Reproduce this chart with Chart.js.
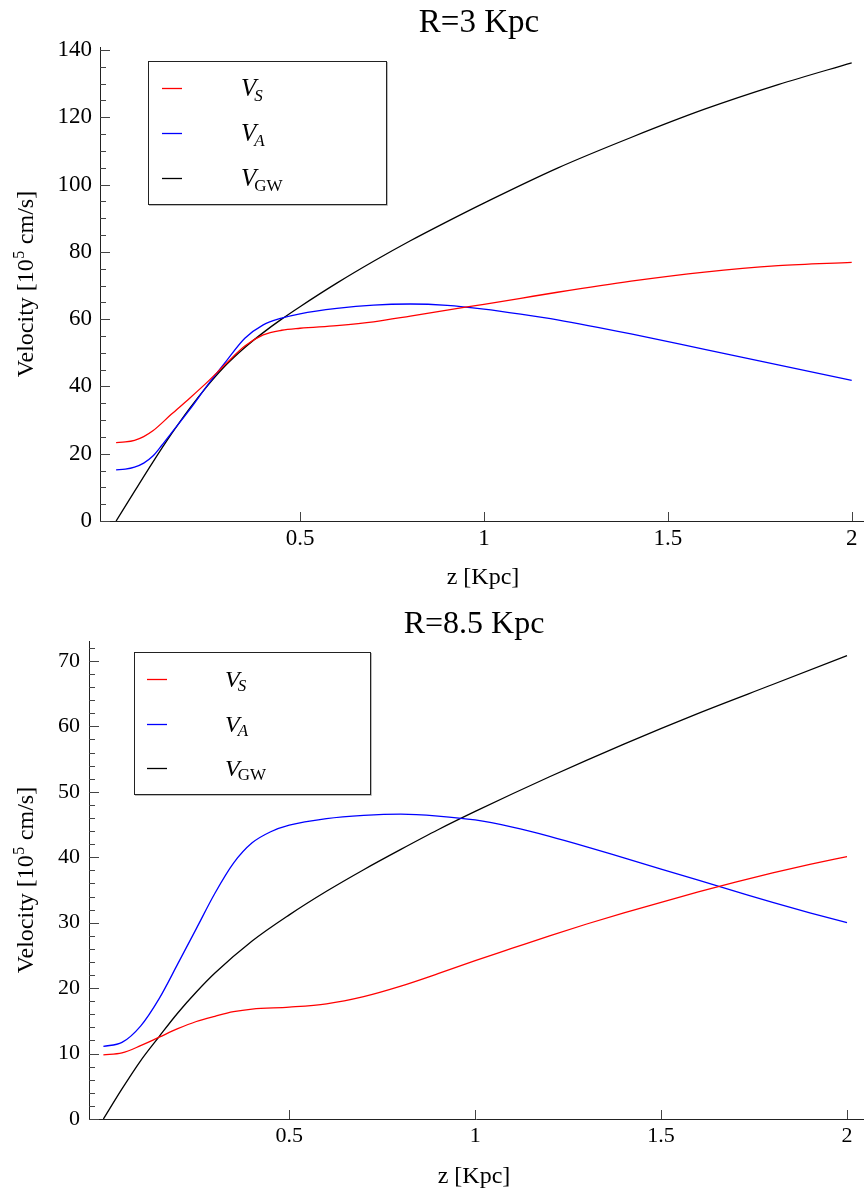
<!DOCTYPE html>
<html><head><meta charset="utf-8">
<script src="https://cdn.jsdelivr.net/npm/chart.js@4.4.1/dist/chart.umd.min.js"></script>
<style>
html,body{margin:0;padding:0;background:#fff;}
#wrap{position:relative;width:864px;height:1197px;overflow:hidden;}
canvas{position:absolute;left:0;}
</style>
</head><body>
<div id="wrap">
<canvas id="c1" width="864" height="600" style="top:0px"></canvas>
<canvas id="c2" width="864" height="597" style="top:600px"></canvas>
</div>
<script>
// ---------- DATA: R = 3 Kpc ----------
const zTopVS = [0, 0.025, 0.05, 0.075, 0.1, 0.15, 0.2, 0.25, 0.3, 0.35, 0.4, 0.45, 0.5, 0.6, 0.7, 0.8, 0.9, 1.0, 1.1, 1.2, 1.4, 1.6, 1.8, 2.0];
const vTopVS = [23.3, 23.5, 24.0, 25.1, 26.8, 31.7, 36.5, 41.5, 46.9, 52.0, 55.3, 56.7, 57.3, 58.1, 59.2, 60.9, 62.7, 64.4, 66.2, 68.0, 71.3, 74.0, 75.9, 76.9];
const zTopVA = [0, 0.025, 0.05, 0.075, 0.1, 0.125, 0.15, 0.2, 0.25, 0.3, 0.35, 0.4, 0.45, 0.5, 0.6, 0.7, 0.8, 0.9, 1.0, 1.1, 1.2, 1.4, 1.6, 1.8, 2.0];
const vTopVA = [15.2, 15.4, 16.0, 17.2, 19.3, 22.6, 26.1, 33.1, 40.6, 47.6, 54.3, 58.3, 60.3, 61.6, 63.2, 64.2, 64.5, 64.1, 63.0, 61.5, 59.8, 55.6, 51.0, 46.4, 41.8];
const zTopVGW = [0, 0.05, 0.1, 0.15, 0.2, 0.25, 0.3, 0.35, 0.4, 0.45, 0.5, 0.6, 0.7, 0.8, 0.9, 1.0, 1.2, 1.4, 1.6, 1.8, 2.0];
const vTopVGW = [0, 8.8, 17.5, 25.8, 33.5, 40.4, 46.5, 51.6, 56.0, 60.0, 63.7, 70.7, 77.2, 83.3, 89.0, 94.5, 104.9, 114.0, 122.4, 129.7, 136.2];
const yTicksTop = [0, 20, 40, 60, 80, 100, 120, 140];
const yMinorTop = [5, 10, 15, 25, 30, 35, 45, 50, 55, 65, 70, 75, 85, 90, 95, 105, 110, 115, 125, 130, 135];

// ---------- DATA: R = 8.5 Kpc ----------
const zBotVS = [0, 0.05, 0.1, 0.15, 0.2, 0.25, 0.3, 0.35, 0.4, 0.5, 0.6, 0.7, 0.8, 0.9, 1.0, 1.1, 1.2, 1.3, 1.4, 1.5, 1.6, 1.7, 1.8, 1.9, 2.0];
const vBotVS = [9.8, 10.1, 11.2, 12.5, 13.8, 14.9, 15.7, 16.4, 16.8, 17.1, 17.6, 18.7, 20.3, 22.2, 24.2, 26.1, 28.0, 29.8, 31.5, 33.1, 34.7, 36.2, 37.6, 38.9, 40.1];
const zBotVA = [0, 0.05, 0.1, 0.15, 0.2, 0.25, 0.3, 0.35, 0.4, 0.45, 0.5, 0.6, 0.7, 0.8, 0.9, 1.0, 1.1, 1.2, 1.3, 1.4, 1.5, 1.6, 1.7, 1.8, 1.9, 2.0];
const vBotVA = [11.1, 11.7, 14.2, 18.4, 23.7, 29.1, 34.5, 39.1, 42.2, 43.9, 44.9, 45.9, 46.4, 46.6, 46.3, 45.7, 44.6, 43.2, 41.6, 39.9, 38.2, 36.5, 34.8, 33.1, 31.5, 30.0];
const zBotVGW = [0, 0.05, 0.1, 0.15, 0.2, 0.25, 0.3, 0.4, 0.5, 0.6, 0.7, 0.8, 0.9, 1.0, 1.2, 1.4, 1.6, 1.8, 2.0];
const vBotVGW = [0, 4.6, 8.9, 12.6, 16.2, 19.4, 22.3, 27.2, 31.2, 34.8, 38.1, 41.2, 44.2, 47.0, 52.3, 57.3, 62.0, 66.4, 70.8];
const yTicksBot = [0, 10, 20, 30, 40, 50, 60, 70];
const yMinorBot = [2, 4, 6, 8, 12, 14, 16, 18, 22, 24, 26, 28, 32, 34, 36, 38, 42, 44, 46, 48, 52, 54, 56, 58, 62, 64, 66, 68, 72];

// ---------- shared ----------
const xTickValues = [0.5, 1, 1.5, 2];
const xTickLabels = ['0.5', '1', '1.5', '2'];
const seriesNames = ['S', 'A', 'GW'];
const seriesColors = ['#ff0000', '#0000ff', '#000000'];
const FONT = '"Liberation Serif", "Times New Roman", "DejaVu Serif", serif';

const decor = {
  id: 'decor',
  afterDraw(chart, args, o) {
    const ctx = chart.ctx, xs = chart.scales.x, ys = chart.scales.y, a = chart.chartArea;
    ctx.save();
    // inside ticks
    ctx.strokeStyle = '#444';
    ctx.lineWidth = 1;
    ctx.beginPath();
    o.yMajor.forEach(v => { const y = Math.round(ys.getPixelForValue(v)) + 0.5; ctx.moveTo(a.left, y); ctx.lineTo(a.left + 10, y); });
    o.yMinor.forEach(v => { const y = Math.round(ys.getPixelForValue(v)) + 0.5; ctx.moveTo(a.left, y); ctx.lineTo(a.left + 6, y); });
    xTickValues.forEach(v => { const x = Math.round(xs.getPixelForValue(v)) + 0.5; ctx.moveTo(x, a.bottom); ctx.lineTo(x, a.bottom - 9); });
    ctx.stroke();

    ctx.fillStyle = '#000';
    // title
    ctx.textAlign = 'center';
    ctx.textBaseline = 'alphabetic';
    ctx.font = o.titleSize + 'px ' + FONT;
    ctx.fillText(o.title, o.titleX, o.titleY);
    // x label
    ctx.font = '24px ' + FONT;
    ctx.fillText('z [Kpc]', o.xLabelX, o.xLabelY);

    // y label rotated with superscript
    ctx.save();
    ctx.translate(o.yLabelX, (a.top + a.bottom) / 2);
    ctx.rotate(-Math.PI / 2);
    ctx.textAlign = 'left';
    ctx.font = '24px ' + FONT;
    const p1 = 'Velocity [10', p3 = ' cm/s]';
    const w1 = ctx.measureText(p1).width, w3 = ctx.measureText(p3).width;
    ctx.font = '16px ' + FONT;
    const w2 = ctx.measureText('5').width;
    let x0 = -(w1 + w2 + w3 + 1) / 2;
    ctx.font = '24px ' + FONT;
    ctx.fillText(p1, x0, 0);
    ctx.font = '16px ' + FONT;
    ctx.fillText('5', x0 + w1 + 0.5, -9);
    ctx.font = '24px ' + FONT;
    ctx.fillText(p3, x0 + w1 + w2 + 1, 0);
    ctx.restore();

    // legend box
    const L = o.legend;
    ctx.fillStyle = '#fff';
    ctx.fillRect(L.x, L.y, L.w, L.h);
    ctx.strokeStyle = '#bbb';
    ctx.lineWidth = 1;
    ctx.beginPath();
    ctx.moveTo(L.x + L.w + 1.5, L.y + 1); ctx.lineTo(L.x + L.w + 1.5, L.y + L.h + 1.5); ctx.lineTo(L.x + 1, L.y + L.h + 1.5);
    ctx.stroke();
    ctx.strokeStyle = '#222';
    ctx.strokeRect(L.x + 0.5, L.y + 0.5, L.w, L.h);
    seriesNames.forEach((n, i) => {
      const y = L.rows[i];
      ctx.strokeStyle = seriesColors[i];
      ctx.lineWidth = 1.3;
      ctx.beginPath(); ctx.moveTo(L.lx1, y + 0.5); ctx.lineTo(L.lx2, y + 0.5); ctx.stroke();
      ctx.fillStyle = '#000';
      ctx.textAlign = 'left';
      ctx.font = 'italic ' + L.vSize + 'px ' + FONT;
      ctx.fillText('V', L.vx, y + L.vSize * 0.33);
      const wv = ctx.measureText('V').width;
      ctx.font = (n === 'GW' ? '' : 'italic ') + L.sSize + 'px ' + FONT;
      ctx.fillText(n, L.vx + wv - 2, y + L.vSize * 0.33 + 4.5);
    });
    ctx.restore();
  }
};

function makeChart(id, cfg) {
  const datasets = cfg.series.map((s, i) => ({
    data: s.z.map((z, k) => ({ x: z, y: s.v[k] })),
    borderColor: seriesColors[i],
    borderWidth: 1.3,
    pointRadius: 0,
    cubicInterpolationMode: 'monotone',
    fill: false
  }));
  return new Chart(document.getElementById(id), {
    type: 'line',
    data: { datasets },
    options: {
      responsive: false,
      animation: false,
      devicePixelRatio: 1,
      layout: { padding: { top: cfg.padTop, right: 1, left: 0, bottom: 0 } },
      plugins: { legend: { display: false }, tooltip: { enabled: false }, decor: cfg.decor },
      scales: {
        x: {
          type: 'linear', min: cfg.xMin, max: cfg.xMax,
          grid: { display: false, drawTicks: false, tickLength: 0 },
          border: { display: true, color: '#222', width: 1 },
          afterFit: s => { s.height = cfg.xH; },
          afterBuildTicks: s => { s.ticks = xTickValues.map(v => ({ value: v })); },
          ticks: {
            color: '#000', padding: 4, maxRotation: 0, autoSkip: false,
            font: { family: FONT, size: cfg.tickSize },
            callback: v => xTickLabels[xTickValues.indexOf(v)]
          }
        },
        y: {
          type: 'linear', min: 0, max: cfg.yMax,
          grid: { display: false, drawTicks: false, tickLength: 0 },
          border: { display: true, color: '#222', width: 1 },
          afterFit: s => { s.width = cfg.yW; },
          afterBuildTicks: s => { s.ticks = cfg.yTicks.map(v => ({ value: v })); },
          ticks: {
            color: '#000', padding: cfg.yPad, autoSkip: false,
            font: { family: FONT, size: cfg.tickSize },
            callback: v => String(v)
          }
        }
      }
    },
    plugins: [decor]
  });
}

makeChart('c1', {
  series: [{ z: zTopVS, v: vTopVS }, { z: zTopVA, v: vTopVA }, { z: zTopVGW, v: vTopVGW }],
  xMin: -0.0438, xMax: 2.0307, yMax: 140.9, yTicks: yTicksTop,
  padTop: 47, xH: 79, yW: 100, yPad: 8, tickSize: 23,
  decor: {
    yMajor: yTicksTop, yMinor: yMinorTop,
    title: 'R=3 Kpc', titleSize: 33, titleX: 479, titleY: 32,
    xLabelX: 483, xLabelY: 584, yLabelX: 33,
    legend: { x: 148, y: 61, w: 238, h: 143, rows: [88, 133, 178], lx1: 162, lx2: 182, vx: 241, vSize: 25, sSize: 17 }
  }
});

makeChart('c2', {
  series: [{ z: zBotVS, v: vBotVS }, { z: zBotVA, v: vBotVA }, { z: zBotVGW, v: vBotVGW }],
  xMin: -0.0387, xMax: 2.043, yMax: 73.05, yTicks: yTicksBot,
  padTop: 41, xH: 78, yW: 89, yPad: 9, tickSize: 22,
  decor: {
    yMajor: yTicksBot, yMinor: yMinorBot,
    title: 'R=8.5 Kpc', titleSize: 32, titleX: 474, titleY: 33,
    xLabelX: 474, xLabelY: 583, yLabelX: 33,
    legend: { x: 134, y: 52, w: 236, h: 142, rows: [79, 124, 168], lx1: 147, lx2: 167, vx: 225, vSize: 24, sSize: 17 }
  }
});
</script>
</body></html>
